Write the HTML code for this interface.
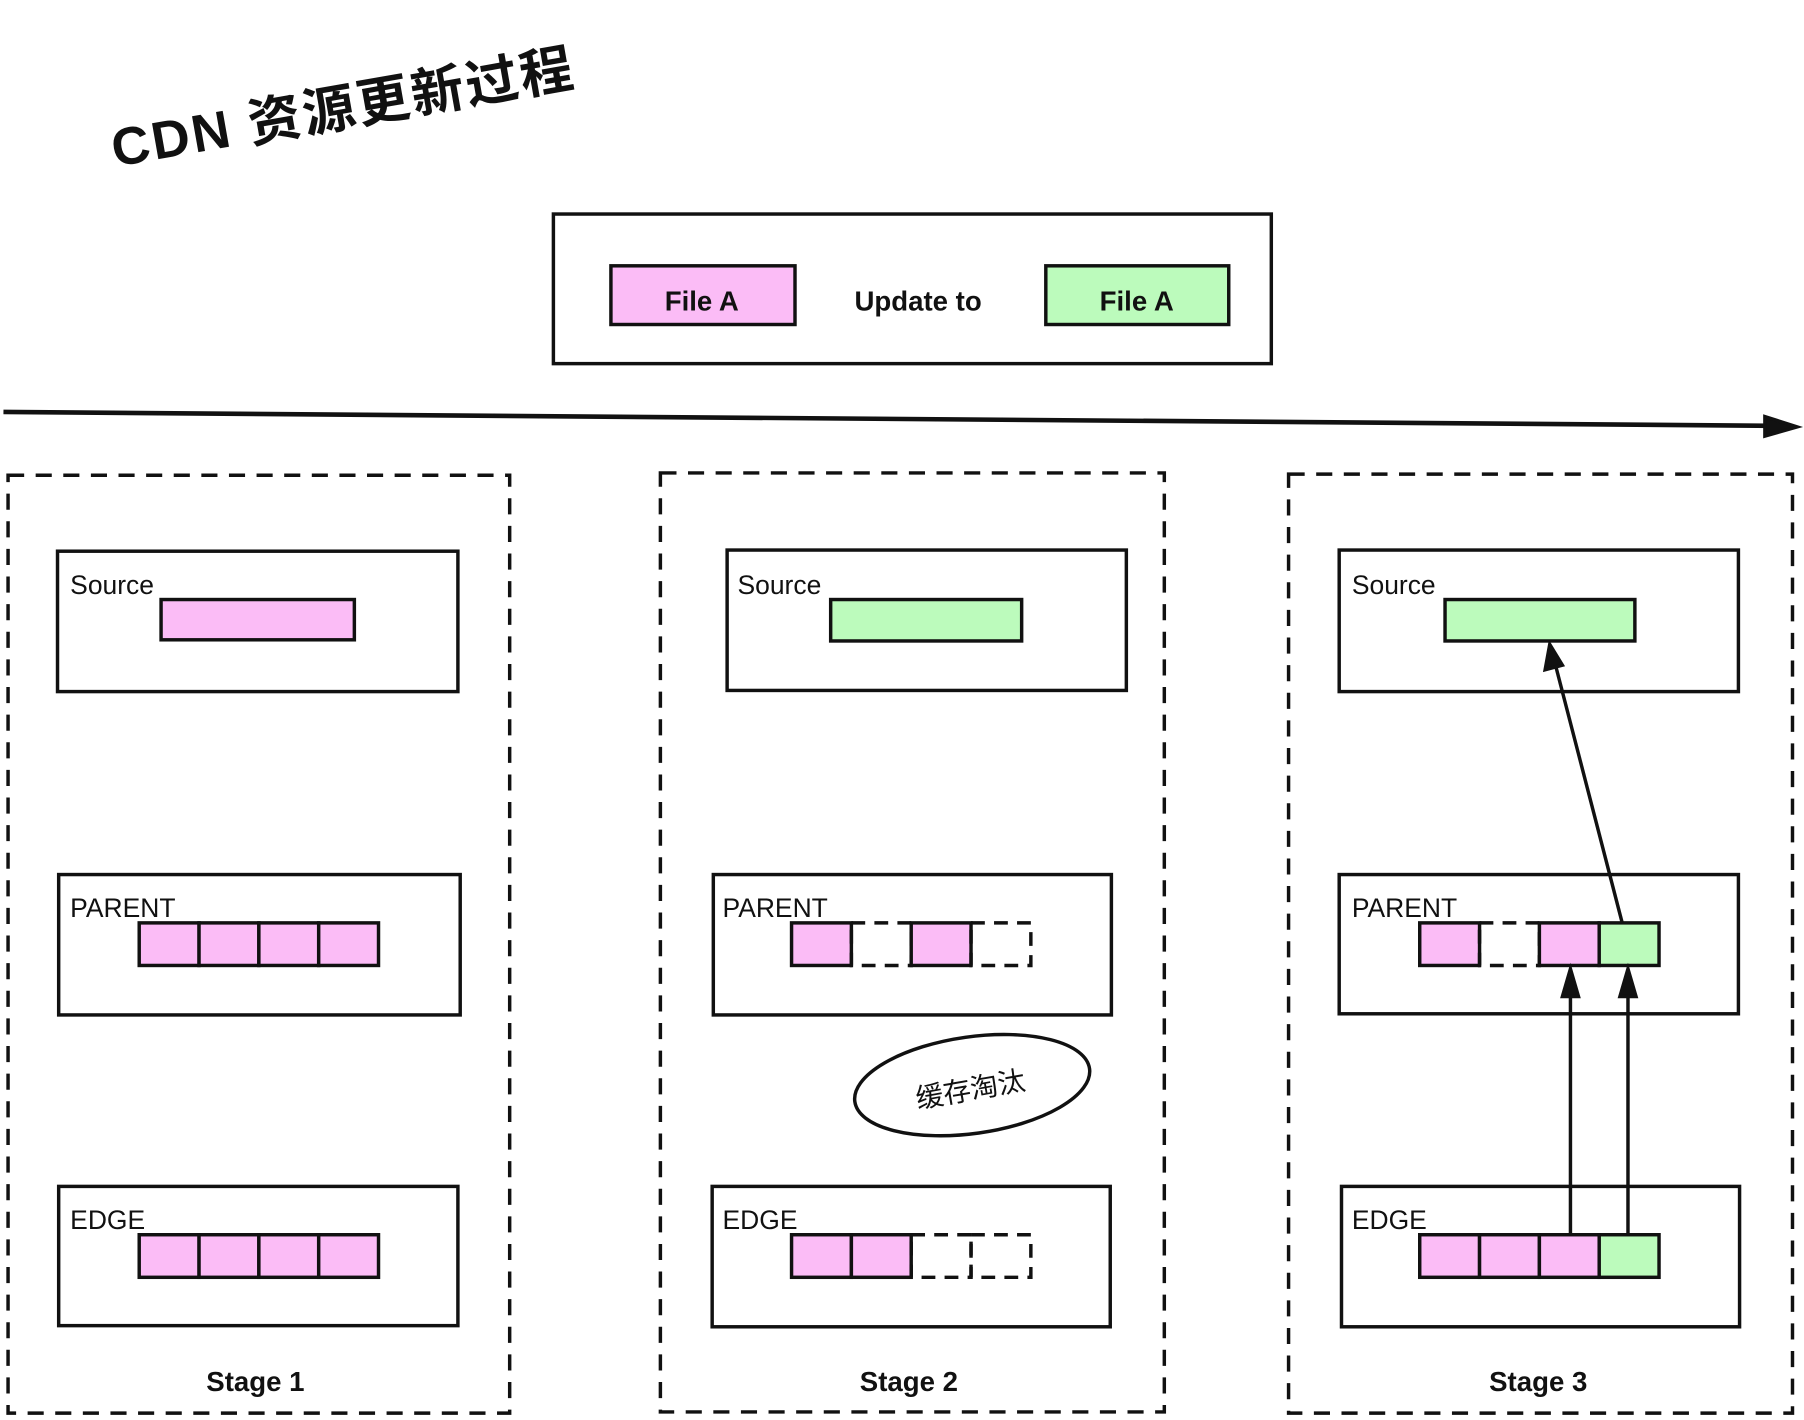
<!DOCTYPE html>
<html><head><meta charset="utf-8"><style>html,body{margin:0;padding:0;background:#fff}svg{display:block}text{font-family:"Liberation Sans","Noto Sans CJK SC",sans-serif;fill:#111}</style></head>
<body>
<svg width="1804" height="1420" viewBox="0 0 1568 1234" preserveAspectRatio="none" xmlns="http://www.w3.org/2000/svg">
<g stroke="#111" stroke-width="3" fill="none">
<text x="100" y="145" font-size="46" font-weight="bold" letter-spacing="2" transform="rotate(-10 100 145)" stroke="none">CDN 资源更新过程</text>
<rect x="481" y="186" width="624" height="130"/>
<rect x="531" y="231" width="160" height="51" fill="#fbbcf6"/>
<rect x="909" y="231" width="159" height="51" fill="#bcfbbc"/>
<text x="610" y="270" font-size="24" font-weight="bold" text-anchor="middle" stroke="none">File A</text>
<text x="798" y="270" font-size="24" font-weight="bold" text-anchor="middle" stroke="none">Update to</text>
<text x="988" y="270" font-size="24" font-weight="bold" text-anchor="middle" stroke="none">File A</text>
<line x1="3" y1="358" x2="1540" y2="370" stroke-width="4"/>
<polygon points="1562,371 1534,362 1534,379" fill="#111"/>
<g stroke-dasharray="14 10">
<rect x="7" y="413" width="436" height="815"/>
<rect x="574" y="411" width="438" height="816"/>
<rect x="1120" y="412" width="438" height="816"/>
</g>
<rect x="50" y="479" width="348" height="122"/>
<rect x="51" y="760" width="349" height="122"/>
<rect x="51" y="1031" width="347" height="121"/>
<rect x="140" y="521" width="168" height="35" fill="#fbbcf6"/>
<g fill="#fbbcf6"><rect x="121" y="802" width="52" height="37"/><rect x="173" y="802" width="52" height="37"/><rect x="225" y="802" width="52" height="37"/><rect x="277" y="802" width="52" height="37"/>
<rect x="121" y="1073" width="52" height="37"/><rect x="173" y="1073" width="52" height="37"/><rect x="225" y="1073" width="52" height="37"/><rect x="277" y="1073" width="52" height="37"/></g>
<rect x="632" y="478" width="347" height="122"/>
<rect x="620" y="760" width="346" height="122"/>
<rect x="619" y="1031" width="346" height="122"/>
<rect x="722" y="521" width="166" height="36" fill="#bcfbbc"/>
<rect x="688" y="802" width="52" height="37" fill="#fbbcf6"/>
<rect x="740" y="802" width="52" height="37" stroke-dasharray="12 8"/>
<rect x="792" y="802" width="52" height="37" fill="#fbbcf6"/>
<rect x="844" y="802" width="52" height="37" stroke-dasharray="12 8"/>
<rect x="688" y="1073" width="52" height="37" fill="#fbbcf6"/>
<rect x="740" y="1073" width="52" height="37" fill="#fbbcf6"/>
<rect x="792" y="1073" width="52" height="37" stroke-dasharray="12 8"/>
<rect x="844" y="1073" width="52" height="37" stroke-dasharray="12 8"/>
<ellipse cx="845" cy="943" rx="103" ry="42" transform="rotate(-8 845 943)"/>
<text x="845" y="955" font-size="24" text-anchor="middle" transform="rotate(-10 845 955)" stroke="none">缓存淘汰</text>
<rect x="1164" y="478" width="347" height="123"/>
<rect x="1164" y="760" width="347" height="121"/>
<rect x="1166" y="1031" width="346" height="122"/>
<rect x="1256" y="521" width="165" height="36" fill="#bcfbbc"/>
<rect x="1234" y="802" width="52" height="37" fill="#fbbcf6"/>
<rect x="1286" y="802" width="52" height="37" stroke-dasharray="12 8"/>
<rect x="1338" y="802" width="52" height="37" fill="#fbbcf6"/>
<rect x="1390" y="802" width="52" height="37" fill="#bcfbbc"/>
<g fill="#fbbcf6"><rect x="1234" y="1073" width="52" height="37"/><rect x="1286" y="1073" width="52" height="37"/><rect x="1338" y="1073" width="52" height="37"/></g>
<rect x="1390" y="1073" width="52" height="37" fill="#bcfbbc"/>
<line x1="1410" y1="802" x2="1352" y2="578"/>
<polygon points="1347,560 1343,582 1358,578" fill="#111"/>
<line x1="1365" y1="1073" x2="1365" y2="858"/>
<polygon points="1365,842 1358,866 1372,866" fill="#111"/>
<line x1="1415" y1="1073" x2="1415" y2="858"/>
<polygon points="1415,842 1408,866 1422,866" fill="#111"/>
</g>
<g font-size="23">
<text x="61" y="516">Source</text><text x="61" y="797">PARENT</text><text x="61" y="1068">EDGE</text>
<text x="641" y="516">Source</text><text x="628" y="797">PARENT</text><text x="628" y="1068">EDGE</text>
<text x="1175" y="516">Source</text><text x="1175" y="797">PARENT</text><text x="1175" y="1068">EDGE</text>
</g>
<g font-size="24" font-weight="bold">
<text x="222" y="1209" text-anchor="middle">Stage 1</text>
<text x="790" y="1209" text-anchor="middle">Stage 2</text>
<text x="1337" y="1209" text-anchor="middle">Stage 3</text>
</g>
</svg>
</body></html>
